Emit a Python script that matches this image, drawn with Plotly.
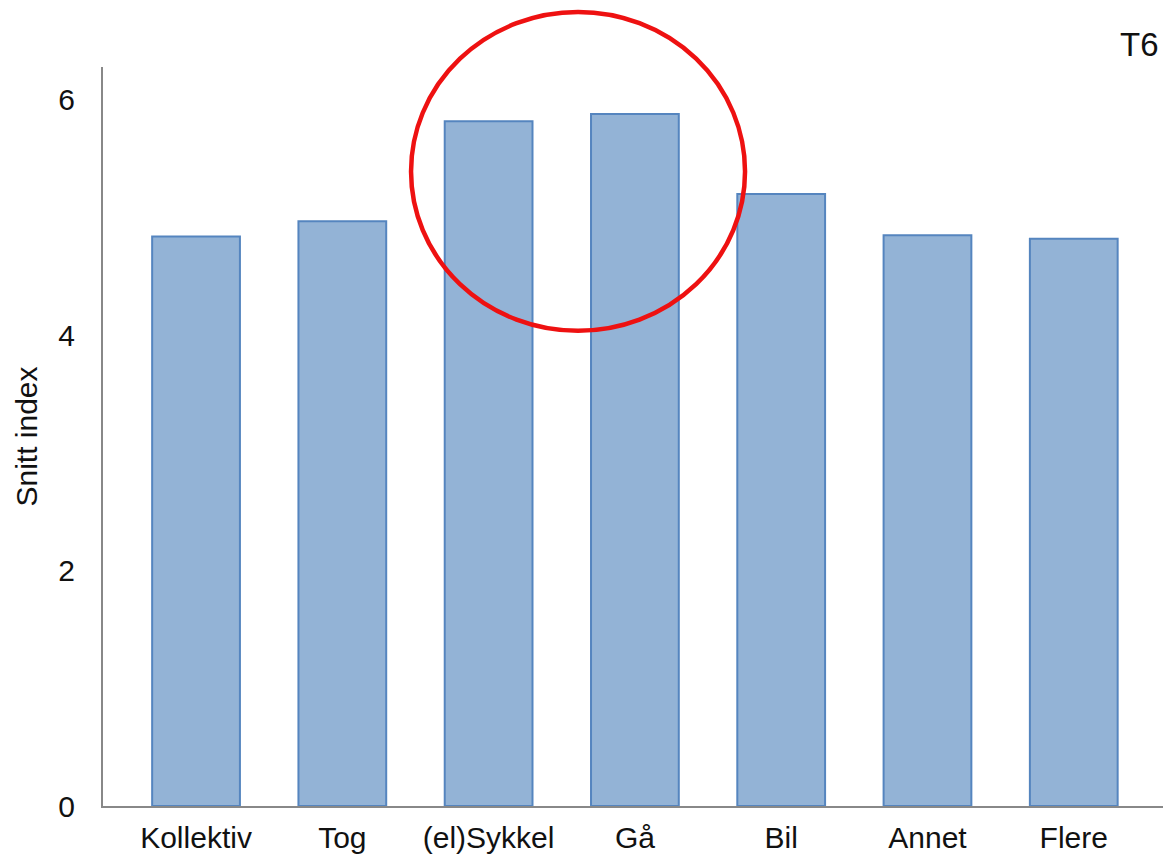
import plotly.graph_objects as go

categories = ["Kollektiv", "Tog", "(el)Sykkel", "Gå", "Bil", "Annet", "Flere"]
values = [4.84, 4.97, 5.82, 5.88, 5.20, 4.85, 4.82]
y_ticks = [0, 2, 4, 6]

fig = go.Figure()
fig.add_trace(go.Bar(
    x=categories, y=values, width=0.6,
    marker=dict(color="#93b3d6", line=dict(color="#5585bf", width=2)),
))

fig.update_layout(
    width=1163, height=856,
    margin=dict(l=103, r=0, t=67, b=50),
    paper_bgcolor="white", plot_bgcolor="white",
    font=dict(family="Liberation Sans, Arial", size=30, color="#111111"),
    showlegend=False,
    xaxis=dict(
        range=[-0.636, 6.61], showgrid=False, showline=True,
        linecolor="#888888", linewidth=2, ticks="", ticklabelstandoff=4,
        tickfont=dict(size=30),
    ),
    yaxis=dict(
        range=[0, 6.28], tickvals=y_ticks, showgrid=False, zeroline=False,
        showline=True, linecolor="#888888", linewidth=2, ticks="",
        ticklabelstandoff=20, tickfont=dict(size=30),
        title=dict(text="Snitt index", font=dict(size=30), standoff=12),
    ),
    bargap=0.4,
)

fig.add_annotation(
    text="T6", xref="paper", yref="paper", x=1.0, y=1.0,
    xanchor="right", yanchor="bottom", showarrow=False,
    font=dict(size=33, color="#111111"), yshift=2, xshift=-2,
)

fig.add_shape(
    type="circle", xref="paper", yref="paper",
    x0=0.2906, x1=0.6057, y0=0.643, y1=1.0744,
    line=dict(color="#ee1111", width=4.5),
)

fig.write_html("out.html", config={"displayModeBar": False},
               post_script="document.body.style.margin='0px';")
